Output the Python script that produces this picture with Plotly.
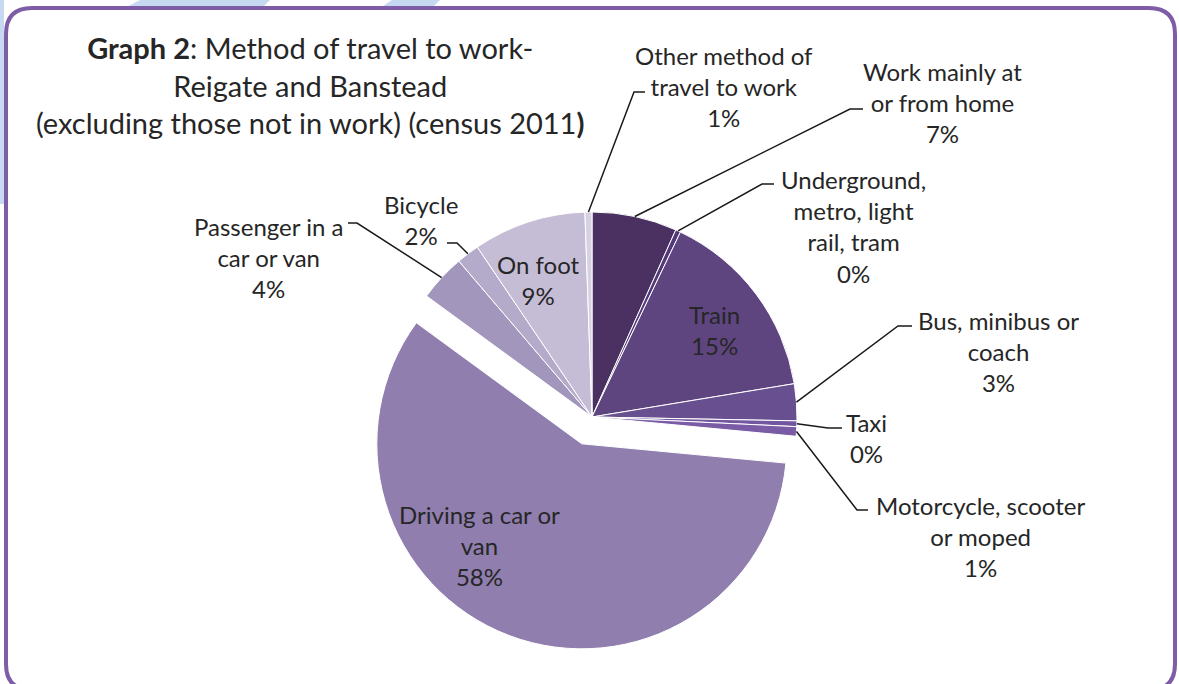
import math
import plotly.graph_objects as go

# ---------------- data ----------------
categories = [
    "Work mainly at or from home",
    "Underground, metro, light rail, tram",
    "Train",
    "Bus, minibus or coach",
    "Taxi",
    "Motorcycle, scooter or moped",
    "Driving a car or van",
    "Passenger in a car or van",
    "Bicycle",
    "On foot",
    "Other method of travel to work",
]
values = [6.7, 0.4, 15.3, 2.9, 0.45, 0.75, 58.55, 3.7, 1.8, 8.9, 0.55]
colors = ["#4A3162", "#54397A", "#5F4580", "#684F8F", "#7256A0", "#7A5BA6",
          "#907EAF", "#A396BD", "#B4AACA", "#C5BDD6", "#D7D1E4"]
pulls = [0, 0, 0, 0, 0, 0, 0.14, 0, 0, 0, 0]

label_texts = [
    "Work mainly at<br>or from home<br>7%",
    "Underground,<br>metro, light<br>rail, tram<br>0%",
    "Train<br>15%",
    "Bus, minibus or<br>coach<br>3%",
    "Taxi<br>0%",
    "Motorcycle, scooter<br>or moped<br>1%",
    "Driving a car or<br>van<br>58%",
    "Passenger in a<br>car or van<br>4%",
    "Bicycle<br>2%",
    "On foot<br>9%",
    "Other method of<br>travel to work<br>1%",
]

# ---------------- layout geometry (pixels) ----------------
W, H = 1179, 684
CX, CY, R = 592, 417, 205
maxpull = max(pulls)
box = 2 * R * (1 + maxpull)

def px(x):
    return x / W

def py(y):
    return 1 - y / H

# label centres (pixel positions of text blocks)
label_pos = [
    (942, 102), (853, 226), (714, 330), (998, 351), (866, 438), (980, 536),
    (479, 545), (268, 257), (421, 220), (538, 280), (724, 86),
]
# elbow points of leader lines (None = inside label)
elbows = [
    [(863, 109), (850, 109)],
    [(774, 184), (762, 184)],
    None,
    [(912, 326), (898, 326)],
    [(842, 428), (828, 428)],
    [(868, 510), (857, 510)],
    None,
    [(348, 223), (357, 223)],
    [(447, 243), (457, 243)],
    None,
    [(645, 92), (634, 92)],
]

fig = go.Figure()
fig.add_trace(go.Pie(
    labels=categories,
    values=values,
    sort=False,
    direction="clockwise",
    rotation=0,
    pull=pulls,
    textinfo="none",
    hoverinfo="label+percent",
    marker=dict(colors=colors, line=dict(color="white", width=1)),
    domain=dict(x=[px(CX - box / 2), px(CX + box / 2)],
                y=[(H - CY - box / 2) / H, (H - CY + box / 2) / H]),
    showlegend=False,
))

shapes = []
annotations = []
total = sum(values)
cum = 0.0
font = dict(family="Lato, Carlito, sans-serif", size=24, color="#262626")
for i, v in enumerate(values):
    mid = (cum + v / 2) / total * 2 * math.pi
    cum += v
    rx = CX + R * math.sin(mid)
    ry = CY - R * math.cos(mid)
    lx, ly = label_pos[i]
    annotations.append(dict(x=px(lx), y=py(ly), xref="paper", yref="paper",
                            text=label_texts[i], showarrow=False, font=font,
                            align="center", xanchor="center", yanchor="middle"))
    if elbows[i] is not None:
        (ax, ay), (bx, by) = elbows[i]
        path = "M{:.5f},{:.5f} L{:.5f},{:.5f} L{:.5f},{:.5f}".format(
            px(ax), py(ay), px(bx), py(by), px(rx), py(ry))
        shapes.append(dict(type="path", path=path, xref="paper", yref="paper",
                           line=dict(color="#1a1a1a", width=1.5)))

# title
annotations.append(dict(
    x=px(310), y=py(85), xref="paper", yref="paper", showarrow=False,
    text="<b>Graph 2</b>: Method of travel to work-<br>Reigate and Banstead<br>"
         "(excluding those not in work) (census 2011<b>)</b>",
    font=dict(family="Lato, Carlito, sans-serif", size=29, color="#262626"),
    align="center", xanchor="center", yanchor="middle"))

# light blue background fragments outside the frame
def poly(points):
    s = "M" + " L".join("{:.5f},{:.5f}".format(px(x), py(y)) for x, y in points) + " Z"
    return s

for pts in [
    [(0, 0), (4, 0), (4, 204), (0, 204)],
    [(125, 8), (140, 0), (270, 0), (262, 8)],
    [(380, 8), (392, 0), (440, 0), (432, 8)],
]:
    shapes.append(dict(type="path", path=poly(pts), xref="paper", yref="paper",
                       fillcolor="#C6D9F0", line=dict(width=0), layer="below"))

# rounded frame
x0, y0, x1, y1, rr = 6, 8, 1175, 690, 26
frame = ("M{a},{b} L{c},{b} Q{x1},{b} {x1},{d} L{x1},{e} Q{x1},{y1} {c},{y1} "
         "L{a},{y1} Q{x0},{y1} {x0},{e} L{x0},{d} Q{x0},{b} {a},{b} Z").format(
    a="{:.5f}".format(px(x0 + rr)), b="{:.5f}".format(py(y0)),
    c="{:.5f}".format(px(x1 - rr)), d="{:.5f}".format(py(y0 + rr)),
    e="{:.5f}".format(py(y1 - rr)), x0="{:.5f}".format(px(x0)),
    x1="{:.5f}".format(px(x1)), y1="{:.5f}".format(py(y1)))
shapes.append(dict(type="path", path=frame, xref="paper", yref="paper",
                   line=dict(color="#7E5DA6", width=4)))

fig.update_layout(
    width=W, height=H,
    margin=dict(l=0, r=0, t=0, b=0),
    paper_bgcolor="white", plot_bgcolor="white",
    shapes=shapes, annotations=annotations,
)
fig.write_html("out.html")
